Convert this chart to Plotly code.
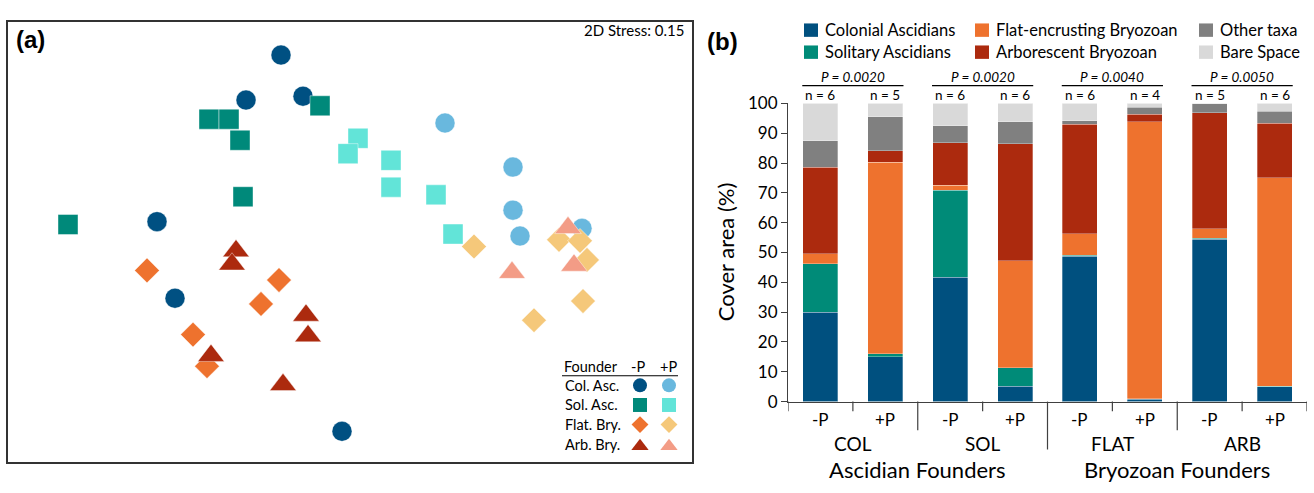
import plotly.graph_objects as go

# ---------------- Panel (a): NMDS ordination data ----------------
groups = ["Col. Asc.", "Sol. Asc.", "Flat. Bry.", "Arb. Bry."]
symbols = ["circle", "square", "diamond", "triangle-up"]
colors_minusP = ["#005082", "#00897A", "#EE722E", "#AC2A0E"]
colors_plusP = ["#69B8DE", "#62E4D8", "#F5C87A", "#F39C86"]

col_minus_x = [-0.276, -0.416, -0.188, -0.772, -0.700, -0.032]
col_minus_y = [0.780, 0.592, 0.608, 0.084, -0.236, -0.792]
col_plus_x = [0.380, 0.652, 0.652, 0.680, 0.928]
col_plus_y = [0.496, 0.312, 0.132, 0.024, 0.056]
sol_minus_x = [-0.564, -0.484, -0.440, -0.120, -0.428, -1.128]
sol_minus_y = [0.512, 0.512, 0.424, 0.568, 0.188, 0.072]
sol_plus_x = [0.032, -0.008, 0.164, 0.164, 0.344, 0.412]
sol_plus_y = [0.432, 0.368, 0.340, 0.228, 0.196, 0.032]
flat_minus_x = [-0.812, -0.284, -0.356, -0.628, -0.572]
flat_minus_y = [-0.120, -0.160, -0.260, -0.388, -0.520]
flat_plus_x = [0.496, 0.836, 0.920, 0.948, 0.932, 0.736]
flat_plus_y = [-0.020, 0.008, 0.004, -0.076, -0.248, -0.328]
arb_minus_x = [-0.456, -0.472, -0.176, -0.168, -0.556, -0.268]
arb_minus_y = [-0.039, -0.094, -0.308, -0.394, -0.476, -0.598]
arb_plus_x = [0.872, 0.896, 0.648]
arb_plus_y = [0.058, -0.099, -0.129]

stress_text = "2D Stress: 0.15"

# ---------------- Panel (b): stacked cover data ----------------
treatments = ["-P", "+P", "-P", "+P", "-P", "+P", "-P", "+P"]
founders = ["COL", "SOL", "FLAT", "ARB"]
founder_groups = ["Ascidian Founders", "Bryozoan Founders"]
n_labels = ["n = 6", "n = 5", "n = 6", "n = 6", "n = 6", "n = 4", "n = 5", "n = 6"]
p_labels = ["P = 0.0020", "P = 0.0020", "P = 0.0040", "P = 0.0050"]

series_names = ["Colonial Ascidians", "Solitary Ascidians", "Flat-encrusting Bryozoan",
                "Arborescent Bryozoan", "Other taxa", "Bare Space"]
series_colors = ["#00507F", "#008B78", "#EE722E", "#AC2A0E", "#808080", "#D9D9D9"]
colonial = [30.0, 15.0, 41.7, 5.2, 48.8, 0.8, 54.4, 5.0]
solitary = [16.3, 1.0, 29.2, 6.2, 0.3, 0.1, 0.3, 0.1]
flat = [3.2, 64.2, 1.6, 35.9, 7.2, 93.0, 3.3, 69.9]
arborescent = [29.1, 4.0, 14.3, 39.2, 36.7, 2.5, 38.9, 18.4]
other = [8.9, 11.3, 5.7, 7.3, 1.1, 2.3, 2.9, 3.9]
bare = [12.5, 4.5, 7.5, 6.2, 5.9, 1.3, 0.2, 2.7]
series_values = [colonial, solitary, flat, arborescent, other, bare]

# ---------------- Layout geometry ----------------
W, H = 1314, 493
FONT = "Lato"


def px(x):
    return x / W


def py(y):
    return (H - y) / H


A_L, A_R, A_T, A_B = 8, 692, 11, 471
B_L, B_R, B_T, B_B = 788, 1307, 96.5, 408

fig = go.Figure()

# NMDS points
pts = [
    (col_minus_x, col_minus_y, col_plus_x, col_plus_y),
    (sol_minus_x, sol_minus_y, sol_plus_x, sol_plus_y),
    (flat_minus_x, flat_minus_y, flat_plus_x, flat_plus_y),
    (arb_minus_x, arb_minus_y, arb_plus_x, arb_plus_y),
]
sizes = [20, 20, 19, 23]
for gi, (mx, my, pxs, pys) in enumerate(pts):
    fig.add_trace(go.Scatter(x=mx, y=my, mode="markers", xaxis="x", yaxis="y",
                             marker=dict(symbol=symbols[gi], size=sizes[gi], color=colors_minusP[gi],
                                         line=dict(width=0.6, color="rgba(255,255,255,0.7)")),
                             showlegend=False, hoverinfo="skip"))
    fig.add_trace(go.Scatter(x=pxs, y=pys, mode="markers", xaxis="x", yaxis="y",
                             marker=dict(symbol=symbols[gi], size=sizes[gi], color=colors_plusP[gi],
                                         line=dict(width=0.6, color="rgba(255,255,255,0.7)")),
                             showlegend=False, hoverinfo="skip"))

# legend glyphs of panel (a), placed in NMDS units converted from pixel layout
def to_nx(xp):
    return (xp - 350) / 250


def to_ny(yp):
    return (241 - yp) / 250


leg_rows_y = [391 + i * 20.5 for i in range(len(groups))]
leg_sizes = [14, 14, 13, 15]
for gi in range(len(groups)):
    for xp, cl in ((640, colors_minusP[gi]), (669, colors_plusP[gi])):
        yy = leg_rows_y[gi] + (2 if symbols[gi] == "triangle-up" else 0)
        fig.add_trace(go.Scatter(x=[to_nx(xp)], y=[to_ny(yy)], mode="markers", xaxis="x", yaxis="y",
                                 marker=dict(symbol=symbols[gi], size=leg_sizes[gi], color=cl),
                                 showlegend=False, hoverinfo="skip", cliponaxis=False))

annotations = []
shapes = []

annotations.append(dict(text="<b>(a)</b>", x=px(14), y=py(30), xref="paper", yref="paper",
                        xanchor="left", yanchor="middle", showarrow=False,
                        font=dict(family="Arial", size=24, color="black")))
annotations.append(dict(text=stress_text, x=px(686), y=py(20), xref="paper", yref="paper",
                        xanchor="right", yanchor="middle", showarrow=False,
                        font=dict(family=FONT, size=15, color="black")))
annotations.append(dict(text="Founder", x=px(562), y=py(371), xref="paper", yref="paper",
                        xanchor="left", yanchor="middle", showarrow=False,
                        font=dict(family=FONT, size=14.5, color="black")))
annotations.append(dict(text="-P", x=px(638), y=py(371), xref="paper", yref="paper",
                        xanchor="center", yanchor="middle", showarrow=False,
                        font=dict(family=FONT, size=14.5, color="black")))
annotations.append(dict(text="+P", x=px(668), y=py(371), xref="paper", yref="paper",
                        xanchor="center", yanchor="middle", showarrow=False,
                        font=dict(family=FONT, size=14.5, color="black")))
shapes.append(dict(type="line", xref="paper", yref="paper", x0=px(562), x1=px(678),
                   y0=py(381), y1=py(381), line=dict(color="black", width=1.2)))
for gi, g in enumerate(groups):
    annotations.append(dict(text=g, x=px(563), y=py(leg_rows_y[gi]), xref="paper", yref="paper",
                            xanchor="left", yanchor="middle", showarrow=False,
                            font=dict(family=FONT, size=14.5, color="black")))

# ---------------- Panel (b) bars ----------------
xs = list(range(len(treatments)))
for si, name in enumerate(series_names):
    fig.add_trace(go.Bar(x=xs, y=series_values[si], name=name, xaxis="x2", yaxis="y2",
                         width=0.54, marker=dict(color=series_colors[si],
                                                 line=dict(width=0.6, color="rgba(255,255,255,0.5)")),
                         showlegend=False, hoverinfo="skip"))

# legend of panel (b)
leg_col_x = [804, 975, 1199]
leg_row_y = [20, 43]
for si, name in enumerate(series_names):
    c, r = si // 2, si % 2
    x0 = leg_col_x[c]
    yc = leg_row_y[r]
    shapes.append(dict(type="rect", xref="paper", yref="paper", x0=px(x0), x1=px(x0 + 14),
                       y0=py(yc + 7), y1=py(yc - 7), fillcolor=series_colors[si], line=dict(width=0)))
    annotations.append(dict(text=name, x=px(x0 + 19), y=py(yc), xref="paper", yref="paper",
                            xanchor="left", yanchor="middle", showarrow=False,
                            font=dict(family=FONT, size=16.5, color="black")))

annotations.append(dict(text="<b>(b)</b>", x=px(722), y=py(32), xref="paper", yref="paper",
                        xanchor="center", yanchor="middle", showarrow=False,
                        font=dict(family="Arial", size=24, color="black")))

# y axis title
annotations.append(dict(text="Cover area (%)", x=px(725), y=py(252), xref="paper", yref="paper",
                        xanchor="center", yanchor="middle", textangle=-90, showarrow=False,
                        font=dict(family=FONT, size=22, color="black")))

# n labels, P labels and bracket lines
for i, t in enumerate(n_labels):
    annotations.append(dict(text=t, x=i, y=py(88), xref="x2", yref="paper",
                            xanchor="center", yanchor="middle", showarrow=False,
                            font=dict(family=FONT, size=13.5, color="black")))
for gi, t in enumerate(p_labels):
    annotations.append(dict(text="<i>" + t + "</i>", x=2 * gi + 0.5, y=py(69), xref="x2", yref="paper",
                            xanchor="center", yanchor="middle", showarrow=False,
                            font=dict(family=FONT, size=13.5, color="black")))
    shapes.append(dict(type="line", xref="x2", yref="paper", x0=2 * gi - 0.28, x1=2 * gi + 1.28,
                       y0=py(78), y1=py(78), line=dict(color="black", width=1.2)))

# x-axis tick marks at category boundaries (short / medium / long)
for b in range(len(treatments) + 1):
    bx = b - 0.5
    if b == 4:
        L = 50
    elif b in (2, 6):
        L = 30
    else:
        L = 10
    shapes.append(dict(type="line", xref="x2", yref="paper", x0=bx, x1=bx,
                       y0=py(B_B), y1=py(B_B + L), line=dict(color="#404040", width=1.2)))

for i, t in enumerate(treatments):
    annotations.append(dict(text=t, x=i, y=py(427), xref="x2", yref="paper",
                            xanchor="center", yanchor="middle", showarrow=False,
                            font=dict(family=FONT, size=17, color="black")))
for gi, t in enumerate(founders):
    annotations.append(dict(text=t, x=2 * gi + 0.5, y=py(452), xref="x2", yref="paper",
                            xanchor="center", yanchor="middle", showarrow=False,
                            font=dict(family=FONT, size=19, color="black")))
for gi, t in enumerate(founder_groups):
    annotations.append(dict(text=t, x=4 * gi + 1.5, y=py(479), xref="x2", yref="paper",
                            xanchor="center", yanchor="middle", showarrow=False,
                            font=dict(family=FONT, size=22, color="black")))

fig.update_layout(
    width=W, height=H, margin=dict(l=0, r=0, t=0, b=0),
    paper_bgcolor="white", plot_bgcolor="rgba(0,0,0,0)",
    barmode="stack",
    xaxis=dict(domain=[px(A_L), px(A_R)], range=[to_nx(A_L), to_nx(A_R)], showticklabels=False,
               showgrid=False, zeroline=False, showline=True, mirror=True, linecolor="#333333",
               linewidth=1.6, ticks="", anchor="y", fixedrange=True),
    yaxis=dict(domain=[py(A_B), py(A_T)], range=[to_ny(A_B), to_ny(A_T)], showticklabels=False,
               showgrid=False, zeroline=False, showline=True, mirror=True, linecolor="#333333",
               linewidth=1.6, ticks="", anchor="x", fixedrange=True),
    xaxis2=dict(domain=[px(B_L), px(B_R)], range=[-0.5, 7.5], showticklabels=False, showgrid=False,
                zeroline=False, showline=True, linecolor="#404040", linewidth=1.2, ticks="",
                anchor="y2", fixedrange=True),
    yaxis2=dict(domain=[py(B_B), py(B_T)], range=[0, 100], dtick=10, tick0=0, showgrid=False,
                zeroline=False, showline=True, linecolor="#404040", linewidth=1.2, ticks="outside",
                ticklen=6, tickcolor="#404040", tickwidth=1.2,
                tickfont=dict(family=FONT, size=17, color="black"), anchor="x2", fixedrange=True),
    annotations=annotations,
    shapes=shapes,
    showlegend=False,
)

fig.write_html("out.html", config={"displayModeBar": False},
               post_script="document.body.style.margin='0';document.body.style.overflow='hidden';")
